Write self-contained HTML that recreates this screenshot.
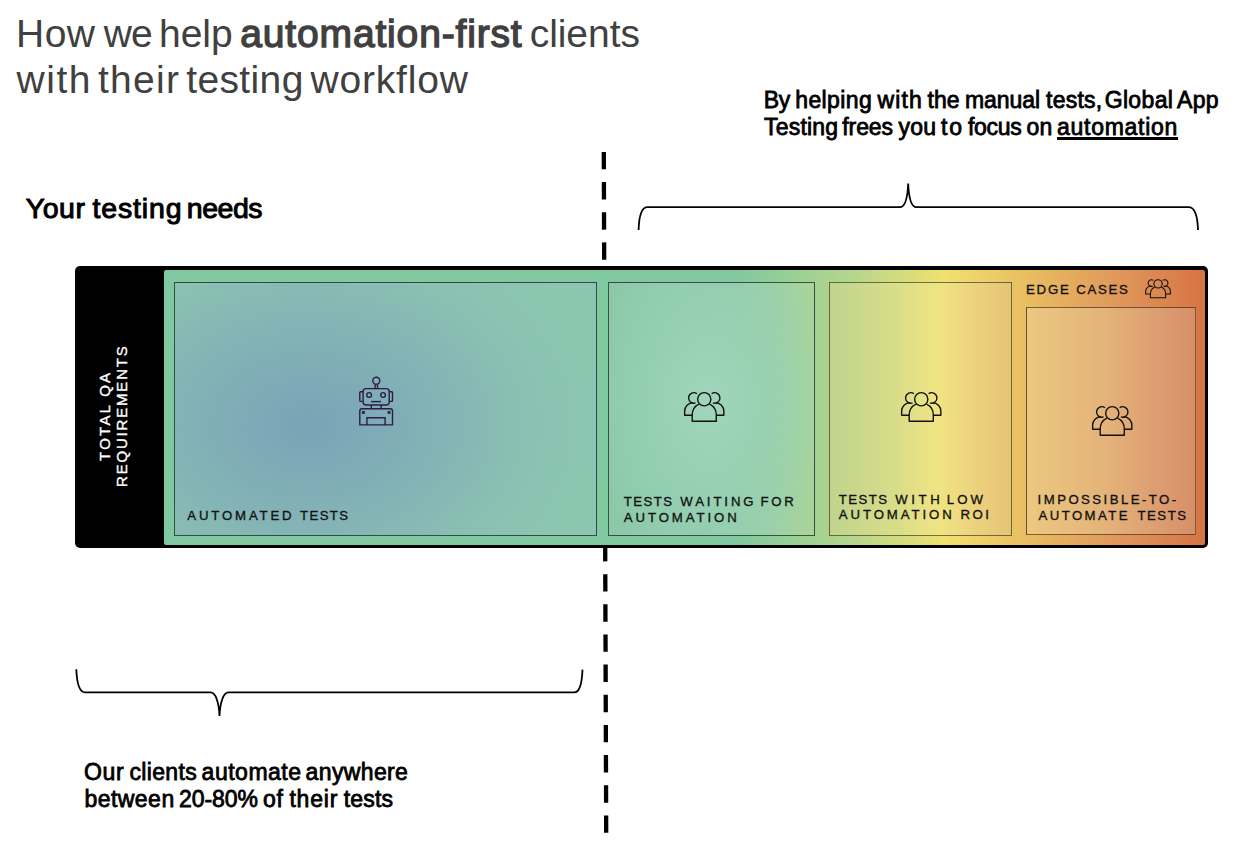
<!DOCTYPE html>
<html><head><meta charset="utf-8">
<style>
html,body{margin:0;padding:0;}
body{width:1256px;height:844px;overflow:hidden;background:#fff;position:relative;font-family:"Liberation Sans",sans-serif;}
#frame{position:absolute;left:74.5px;top:266px;width:1133.5px;height:282px;background:#000;border-radius:5px;}
#grad{position:absolute;left:163.5px;top:269.5px;width:1041.5px;height:275px;border-radius:2px;
 background:linear-gradient(90deg,#80c8a0 0%,#80c8a0 55%,#b4d68c 66%,#f0e070 75%,#e8b860 84%,#e0965a 92%,#d67444 100%);}
.box{position:absolute;box-sizing:border-box;border:1.3px solid rgba(10,20,15,0.68);}
#bx1{left:173.5px;top:281.5px;width:423.2px;height:254px;
 background:radial-gradient(ellipse 290px 215px at 133px 142px,#7aa3b6 0%,#82b1b6 40%,#8ac0b2 75%,#8cc6b0 100%);}
#bx2{left:608.4px;top:281.5px;width:206.4px;height:254px;
 background:radial-gradient(ellipse 120px 190px at 99px 120px,rgba(160,214,187,1) 0%,rgba(152,209,180,0.8) 45%,rgba(140,200,168,0) 100%),linear-gradient(90deg,#8bc8a8 0%,#90cbac 50%,#9bd0a6 78%,#aad49a 100%);}
#bx3{left:829.4px;top:281.5px;width:182.4px;height:254px;border-color:rgba(30,30,10,0.58);
 background:linear-gradient(90deg,#bfd48e 0%,#dcde88 40%,#f0e482 60%,#eed680 75%,#e6c474 100%);}
#bx4{left:1026.4px;top:307.3px;width:169.3px;height:228.2px;border-color:rgba(30,20,10,0.58);
 background:linear-gradient(90deg,#ecc880 0%,#e4b47a 45%,#dc9c70 80%,#d88e68 100%);}
svg{position:absolute;left:0;top:0;}
.w{position:absolute;white-space:nowrap;line-height:1;}
</style></head>
<body>
<svg width="1256" height="844" viewBox="0 0 1256 844">
 <line x1="603.8" y1="151.9" x2="606.2" y2="833" stroke="#000" stroke-width="4.3" stroke-dasharray="17.4 12.76"/>
 <path d="M638.6 230 C639 216 641.5 207.2 647.5 207.2 L899.8 207.2 C905 207.2 907.6 198 908.2 183.5 C908.8 198 911.5 207.2 916.5 207.2 L1188.5 207.2 C1194.5 207.2 1197.6 216 1198 230" fill="none" stroke="#000" stroke-width="1.8"/>
 <path d="M76.3 669.3 C76.8 682 79.5 692.4 85.1 692.4 L210.6 692.4 C215.5 692.4 218.9 702 219.5 716 C220.1 702 223.5 692.4 228.5 692.4 L574.4 692.4 C580 692.4 582 682 582.5 669.6" fill="none" stroke="#000" stroke-width="1.8"/>
</svg>

<div id="frame"></div>
<div id="grad"></div>
<div id="bx1" class="box"></div>
<div id="bx2" class="box"></div>
<div id="bx3" class="box"></div>
<div id="bx4" class="box"></div>
<svg width="0" height="0" style="position:absolute">
 <defs>
  <g id="ppl" fill="none" stroke-linejoin="round">
   <circle cx="22.25" cy="9.25" r="6.6"/>
   <path d="M16.9 14.2 A12.05 12.05 0 0 0 10.2 25 V31.3 H34.3 V25 A12.05 12.05 0 0 0 27.6 14.2"/>
   <path d="M14.89 3.7 A5.25 5.25 0 1 0 13.6 12.88"/>
   <path d="M29.61 3.7 A5.25 5.25 0 1 1 30.9 12.88"/>
   <path d="M10.2 25.3 H2.65 V21 A8.25 8.25 0 0 1 10.9 12.75"/>
   <path d="M34.3 25.3 H41.85 V21 A8.25 8.25 0 0 0 33.6 12.75"/>
  </g>
 </defs>
</svg>
<svg id="robot" style="left:355px;top:372px" width="44" height="58" viewBox="0 0 44 58" fill="none" stroke="#2b1d45" stroke-width="1.4">
 <circle cx="21.3" cy="8.7" r="3.5"/>
 <path d="M20.1 12.4 V16.65 M22.5 12.4 V16.65"/>
 <rect x="8.1" y="16.65" width="26.1" height="16.35" rx="3"/>
 <path d="M8.1 19.8 H5.6 Q4.8 19.8 4.8 20.6 V28.6 Q4.8 29.4 5.6 29.4 H8.1"/>
 <path d="M34.2 19.8 H36.7 Q37.5 19.8 37.5 20.6 V28.6 Q37.5 29.4 36.7 29.4 H34.2"/>
 <circle cx="14.15" cy="23" r="2.35"/>
 <circle cx="28.1" cy="23" r="2.35"/>
 <path d="M16 29.6 H26"/>
 <path d="M16.3 33 V36.8 M26.1 33 V36.8"/>
 <path d="M4.8 52.9 V39 Q4.8 36.8 7 36.8 H35.3 Q37.5 36.8 37.5 39 V52.9 Z"/>
 <circle cx="8.4" cy="40.4" r="1"/>
 <circle cx="34" cy="40.4" r="1"/>
 <path d="M11.9 52.9 V45.7 H30.1 V52.9"/>
</svg>
<svg id="p2" style="left:682px;top:390px" width="44" height="34" viewBox="0 0 44 34" stroke="#111" stroke-width="1.4"><use href="#ppl"/></svg>
<svg id="p3" style="left:898.8px;top:390px" width="44" height="34" viewBox="0 0 44 34" stroke="#111" stroke-width="1.4"><use href="#ppl"/></svg>
<svg id="p4" style="left:1089.8px;top:403.8px" width="44" height="34" viewBox="0 0 44 34" stroke="#111" stroke-width="1.4"><use href="#ppl"/></svg>
<svg id="p5" style="left:1143.5px;top:277.6px" width="27.8" height="21.5" viewBox="0 0 44 34" stroke="#111" stroke-width="1.7"><use href="#ppl"/></svg>
<span class="w" style="left:16.0px;top:14.0px;font-weight:normal;font-size:39px;letter-spacing:0.5px;color:#404040;">How</span>
<span class="w" style="left:103.8px;top:14.0px;font-weight:normal;font-size:39px;letter-spacing:-0.9px;color:#404040;">we</span>
<span class="w" style="left:159.1px;top:14.0px;font-weight:normal;font-size:39px;letter-spacing:-0.07px;color:#404040;">help</span>
<span class="w" style="left:240.3px;top:14.0px;font-weight:normal;font-size:39px;letter-spacing:0.84px;-webkit-text-stroke:1.37px currentColor;color:#404040;">automation-first</span>
<span class="w" style="left:529.7px;top:14.0px;font-weight:normal;font-size:39px;letter-spacing:-0.05px;color:#404040;">clients</span>
<span class="w" style="left:16.6px;top:59.5px;font-weight:normal;font-size:39px;letter-spacing:1.53px;color:#404040;">with</span>
<span class="w" style="left:98.0px;top:59.5px;font-weight:normal;font-size:39px;letter-spacing:1.25px;color:#404040;">their</span>
<span class="w" style="left:186.2px;top:59.5px;font-weight:normal;font-size:39px;letter-spacing:0.38px;color:#404040;">testing</span>
<span class="w" style="left:310.5px;top:59.5px;font-weight:normal;font-size:39px;letter-spacing:0.81px;color:#404040;">workflow</span>
<span class="w" style="left:25.7px;top:193.9px;font-weight:normal;font-size:28.5px;letter-spacing:0.57px;-webkit-text-stroke:1.0px currentColor;color:#000;">Your</span>
<span class="w" style="left:92.5px;top:193.9px;font-weight:normal;font-size:28.5px;letter-spacing:0.85px;-webkit-text-stroke:1.0px currentColor;color:#000;">testing</span>
<span class="w" style="left:186.8px;top:193.9px;font-weight:normal;font-size:28.5px;letter-spacing:-0.48px;-webkit-text-stroke:1.0px currentColor;color:#000;">needs</span>
<span class="w" style="left:763.7px;top:89.2px;font-weight:normal;font-size:23px;letter-spacing:-0.2px;-webkit-text-stroke:0.81px currentColor;color:#000;">By</span>
<span class="w" style="left:795.2px;top:89.2px;font-weight:normal;font-size:23px;letter-spacing:0.4px;-webkit-text-stroke:0.81px currentColor;color:#000;">helping</span>
<span class="w" style="left:877.5px;top:89.2px;font-weight:normal;font-size:23px;letter-spacing:1.13px;-webkit-text-stroke:0.81px currentColor;color:#000;">with</span>
<span class="w" style="left:927.4px;top:89.2px;font-weight:normal;font-size:23px;letter-spacing:0.15px;-webkit-text-stroke:0.81px currentColor;color:#000;">the</span>
<span class="w" style="left:964.9px;top:89.2px;font-weight:normal;font-size:23px;letter-spacing:-0.02px;-webkit-text-stroke:0.81px currentColor;color:#000;">manual</span>
<span class="w" style="left:1046.1px;top:89.2px;font-weight:normal;font-size:23px;letter-spacing:0.22px;-webkit-text-stroke:0.81px currentColor;color:#000;">tests,</span>
<span class="w" style="left:1104.7px;top:89.2px;font-weight:normal;font-size:23px;letter-spacing:0.34px;-webkit-text-stroke:0.81px currentColor;color:#000;">Global</span>
<span class="w" style="left:1177.1px;top:89.2px;font-weight:normal;font-size:23px;letter-spacing:0.2px;-webkit-text-stroke:0.81px currentColor;color:#000;">App</span>
<span class="w" style="left:764.1px;top:116.1px;font-weight:normal;font-size:23px;letter-spacing:0.17px;-webkit-text-stroke:0.81px currentColor;color:#000;">Testing</span>
<span class="w" style="left:842.3px;top:116.1px;font-weight:normal;font-size:23px;letter-spacing:-0.1px;-webkit-text-stroke:0.81px currentColor;color:#000;">frees</span>
<span class="w" style="left:898.6px;top:116.1px;font-weight:normal;font-size:23px;letter-spacing:0.15px;-webkit-text-stroke:0.81px currentColor;color:#000;">you</span>
<span class="w" style="left:941.1px;top:116.1px;font-weight:normal;font-size:23px;letter-spacing:1.7px;-webkit-text-stroke:0.81px currentColor;color:#000;">to</span>
<span class="w" style="left:968.0px;top:116.1px;font-weight:normal;font-size:23px;letter-spacing:-0.32px;-webkit-text-stroke:0.81px currentColor;color:#000;">focus</span>
<span class="w" style="left:1026.4px;top:116.1px;font-weight:normal;font-size:23px;letter-spacing:0.4px;-webkit-text-stroke:0.81px currentColor;color:#000;">on</span>
<span class="w" style="left:1057.0px;top:116.1px;font-weight:normal;font-size:23px;letter-spacing:0.73px;-webkit-text-stroke:0.81px currentColor;color:#000;text-decoration:underline;text-decoration-thickness:2.5px;text-underline-offset:1.5px;">automation</span>
<span class="w" style="left:84.0px;top:761.2px;font-weight:normal;font-size:23px;letter-spacing:0.65px;-webkit-text-stroke:0.81px currentColor;color:#000;">Our</span>
<span class="w" style="left:129.5px;top:761.2px;font-weight:normal;font-size:23px;letter-spacing:0.33px;-webkit-text-stroke:0.81px currentColor;color:#000;">clients</span>
<span class="w" style="left:201.6px;top:761.2px;font-weight:normal;font-size:23px;letter-spacing:0.51px;-webkit-text-stroke:0.81px currentColor;color:#000;">automate</span>
<span class="w" style="left:305.6px;top:761.2px;font-weight:normal;font-size:23px;letter-spacing:0.37px;-webkit-text-stroke:0.81px currentColor;color:#000;">anywhere</span>
<span class="w" style="left:84.4px;top:788.0px;font-weight:normal;font-size:23px;letter-spacing:0.47px;-webkit-text-stroke:0.81px currentColor;color:#000;">between</span>
<span class="w" style="left:178.9px;top:788.0px;font-weight:normal;font-size:23px;letter-spacing:-0.02px;-webkit-text-stroke:0.81px currentColor;color:#000;">20-80%</span>
<span class="w" style="left:263.0px;top:788.0px;font-weight:normal;font-size:23px;letter-spacing:0.7px;-webkit-text-stroke:0.81px currentColor;color:#000;">of</span>
<span class="w" style="left:289.4px;top:788.0px;font-weight:normal;font-size:23px;letter-spacing:0.8px;-webkit-text-stroke:0.81px currentColor;color:#000;">their</span>
<span class="w" style="left:343.8px;top:788.0px;font-weight:normal;font-size:23px;letter-spacing:0.17px;-webkit-text-stroke:0.81px currentColor;color:#000;">tests</span>
<span class="w" style="left:187.3px;top:508.5px;font-weight:normal;font-size:13.2px;letter-spacing:2.84px;-webkit-text-stroke:0.32px currentColor;color:#111;">AUTOMATED</span>
<span class="w" style="left:300.0px;top:508.5px;font-weight:normal;font-size:13.2px;letter-spacing:1.4px;-webkit-text-stroke:0.32px currentColor;color:#111;">TESTS</span>
<span class="w" style="left:623.8px;top:495.3px;font-weight:normal;font-size:13.2px;letter-spacing:1.43px;-webkit-text-stroke:0.32px currentColor;color:#111;">TESTS</span>
<span class="w" style="left:680.3px;top:495.3px;font-weight:normal;font-size:13.2px;letter-spacing:2.9px;-webkit-text-stroke:0.32px currentColor;color:#111;">WAITING</span>
<span class="w" style="left:760.5px;top:495.3px;font-weight:normal;font-size:13.2px;letter-spacing:2.75px;-webkit-text-stroke:0.32px currentColor;color:#111;">FOR</span>
<span class="w" style="left:623.8px;top:510.9px;font-weight:normal;font-size:13.2px;letter-spacing:2.91px;-webkit-text-stroke:0.32px currentColor;color:#111;">AUTOMATION</span>
<span class="w" style="left:838.8px;top:492.6px;font-weight:normal;font-size:13.2px;letter-spacing:1.43px;-webkit-text-stroke:0.32px currentColor;color:#111;">TESTS</span>
<span class="w" style="left:895.3px;top:492.6px;font-weight:normal;font-size:13.2px;letter-spacing:3.6px;-webkit-text-stroke:0.32px currentColor;color:#111;">WITH</span>
<span class="w" style="left:946.8px;top:492.6px;font-weight:normal;font-size:13.2px;letter-spacing:3.05px;-webkit-text-stroke:0.32px currentColor;color:#111;">LOW</span>
<span class="w" style="left:838.8px;top:508.4px;font-weight:normal;font-size:13.2px;letter-spacing:2.91px;-webkit-text-stroke:0.32px currentColor;color:#111;">AUTOMATION</span>
<span class="w" style="left:960.4px;top:508.4px;font-weight:normal;font-size:13.2px;letter-spacing:2.5px;-webkit-text-stroke:0.32px currentColor;color:#111;">ROI</span>
<span class="w" style="left:1037.6px;top:492.7px;font-weight:normal;font-size:13.2px;letter-spacing:2.45px;-webkit-text-stroke:0.32px currentColor;color:#111;">IMPOSSIBLE-TO-</span>
<span class="w" style="left:1038.6px;top:508.6px;font-weight:normal;font-size:13.2px;letter-spacing:2.4px;-webkit-text-stroke:0.32px currentColor;color:#111;">AUTOMATE</span>
<span class="w" style="left:1137.5px;top:508.6px;font-weight:normal;font-size:13.2px;letter-spacing:1.5px;-webkit-text-stroke:0.32px currentColor;color:#111;">TESTS</span>
<span class="w" style="left:1026.0px;top:282.7px;font-weight:normal;font-size:13.2px;letter-spacing:1.8px;-webkit-text-stroke:0.32px currentColor;color:#111;">EDGE</span>
<span class="w" style="left:1076.3px;top:282.7px;font-weight:normal;font-size:13.2px;letter-spacing:1.68px;-webkit-text-stroke:0.32px currentColor;color:#111;">CASES</span>
<span class="w" style="left:96.6px;top:461.4px;transform-origin:0 0;transform:rotate(-90deg);font-weight:normal;font-size:15px;letter-spacing:2.26px;-webkit-text-stroke:0.35px currentColor;color:#fff;">TOTAL QA</span>
<span class="w" style="left:113.8px;top:486.5px;transform-origin:0 0;transform:rotate(-90deg);font-weight:normal;font-size:15px;letter-spacing:1.81px;-webkit-text-stroke:0.35px currentColor;color:#fff;">REQUIREMENTS</span>
</body></html>
